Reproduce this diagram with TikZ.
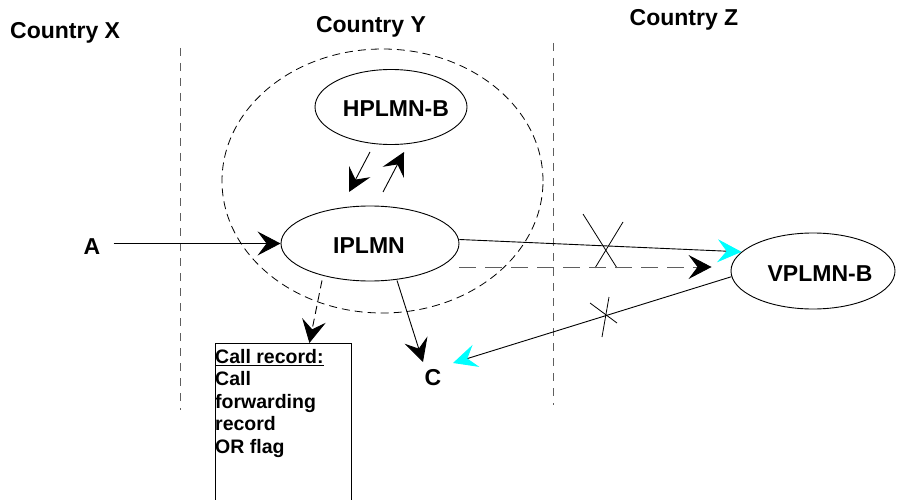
\documentclass[tikz,border=0pt]{standalone}
\usepackage{fontspec}
\setmainfont{Liberation Sans}
\usetikzlibrary{shapes.geometric,arrows.meta,calc}
\definecolor{cyanhead}{RGB}{0,255,255}
\definecolor{divgray}{RGB}{95,95,95}
\begin{document}
\begin{tikzpicture}[x=1pt,y=-1pt,
  lbl/.style={font=\fontsize{23}{27}\selectfont\bfseries, inner sep=0pt},
  net/.style={draw, ellipse, inner sep=0pt, line width=0.9pt},
  conn/.style={line width=0.9pt},
  bigtip/.style={-{Stealth[length=23pt,width=24pt,inset=9pt,color=black]}},
  cyantip/.style={-{Stealth[length=24pt,width=23pt,inset=9pt,color=cyanhead]}},
  border/.style={draw=divgray, dash pattern=on 8pt off 7pt, line width=0.9pt},
  zone/.style={draw, ellipse, inner sep=0pt, dash pattern=on 8pt off 5pt, line width=0.8pt},
  xbar/.style={line width=0.8pt}
]
\useasboundingbox (0,0) rectangle (897,500);
\fill[white] (0,0) rectangle (897,500);

% country labels
\node[lbl, anchor=west] (cx) at (10,33) {Country X};
\node[lbl] (cy) at (371,27) {Country Y};
\node[lbl] (cz) at (684,20) {Country Z};

% borders
\coordinate (b1t) at (180,48);
\coordinate (b1b) at (180,410);
\coordinate (b2t) at (553,43);
\coordinate (b2b) at (553,405);
\draw[border] (b1t) -- (b1b);
\draw[border] (b2t) -- (b2b);

% country Y zone
\node[zone, minimum width=321pt, minimum height=264pt] (Yz) at (382.5,181) {};

% networks
\node[net, minimum width=152pt, minimum height=75pt] (H) at (391,107) {};
\node[lbl] (Ht) at (396,109) {HPLMN-B};
\node[net, minimum width=178pt, minimum height=75pt] (I) at (370,243.5) {};
\node[lbl] (It) at (369,246) {IPLMN};
\node[net, minimum width=164pt, minimum height=76pt] (V) at (813,271) {};
\node[lbl] (Vt) at (820,274) {VPLMN-B};

% end points
\node[lbl] (A) at (92,247) {A};
\node[lbl] (C) at (433,378) {C};

% call record box
\node[draw, line width=0.8pt, minimum width=136pt, minimum height=157pt, anchor=north west, inner sep=0pt] (box) at (215,343) {};
\node[anchor=north west, inner sep=0pt, align=left, font=\fontsize{19.5}{22.5}\selectfont\bfseries] (boxt) at ($(box.north west)+(0,6)$)
  {\underline{Call record:}\\Call\\forwarding\\record\\OR flag};

% A -> IPLMN
\draw[conn, bigtip, shorten <=13pt] (A.east |- I.west) -- (I.west);

% HPLMN <-> IPLMN
\coordinate (d1) at (370,152);
\coordinate (d2) at (349,192);
\coordinate (u1) at (383,192);
\coordinate (u2) at (404,152);
\draw[conn, bigtip] (d1) -- (d2);
\draw[conn, bigtip] (u1) -- (u2);

% IPLMN -> VPLMN-B (barred)
\draw[conn, cyantip] ($(I.east)+(0,-4)$) -- (V.165);
\draw[xbar] (583,214) -- (617,268);
\draw[xbar] (623,222) -- (595,268);

% IPLMN -> VPLMN-B dashed
\draw[conn, draw=divgray, dash pattern=on 17pt off 9pt, bigtip] ($(I.east)+(0,23.5)$) -- ($(V.west)+(-19,-4)$);

% VPLMN-B -> C (barred)
\draw[conn, cyantip] (V.184) -- ($(C)+(20,-15)$);
\draw[xbar] (590,303) -- (617,323);
\draw[xbar] (609,297) -- (602,337);

% IPLMN -> C
\draw[conn, bigtip] ($(I.south)+(27,-1)$) -- ($(C)+(-10,-16)$);

% IPLMN -> call record
\draw[conn, dash pattern=on 8pt off 5pt, bigtip] ($(I.south)+(-48,-1)$) -- ($(box.north)+(26,0)$);
\end{tikzpicture}
\end{document}
